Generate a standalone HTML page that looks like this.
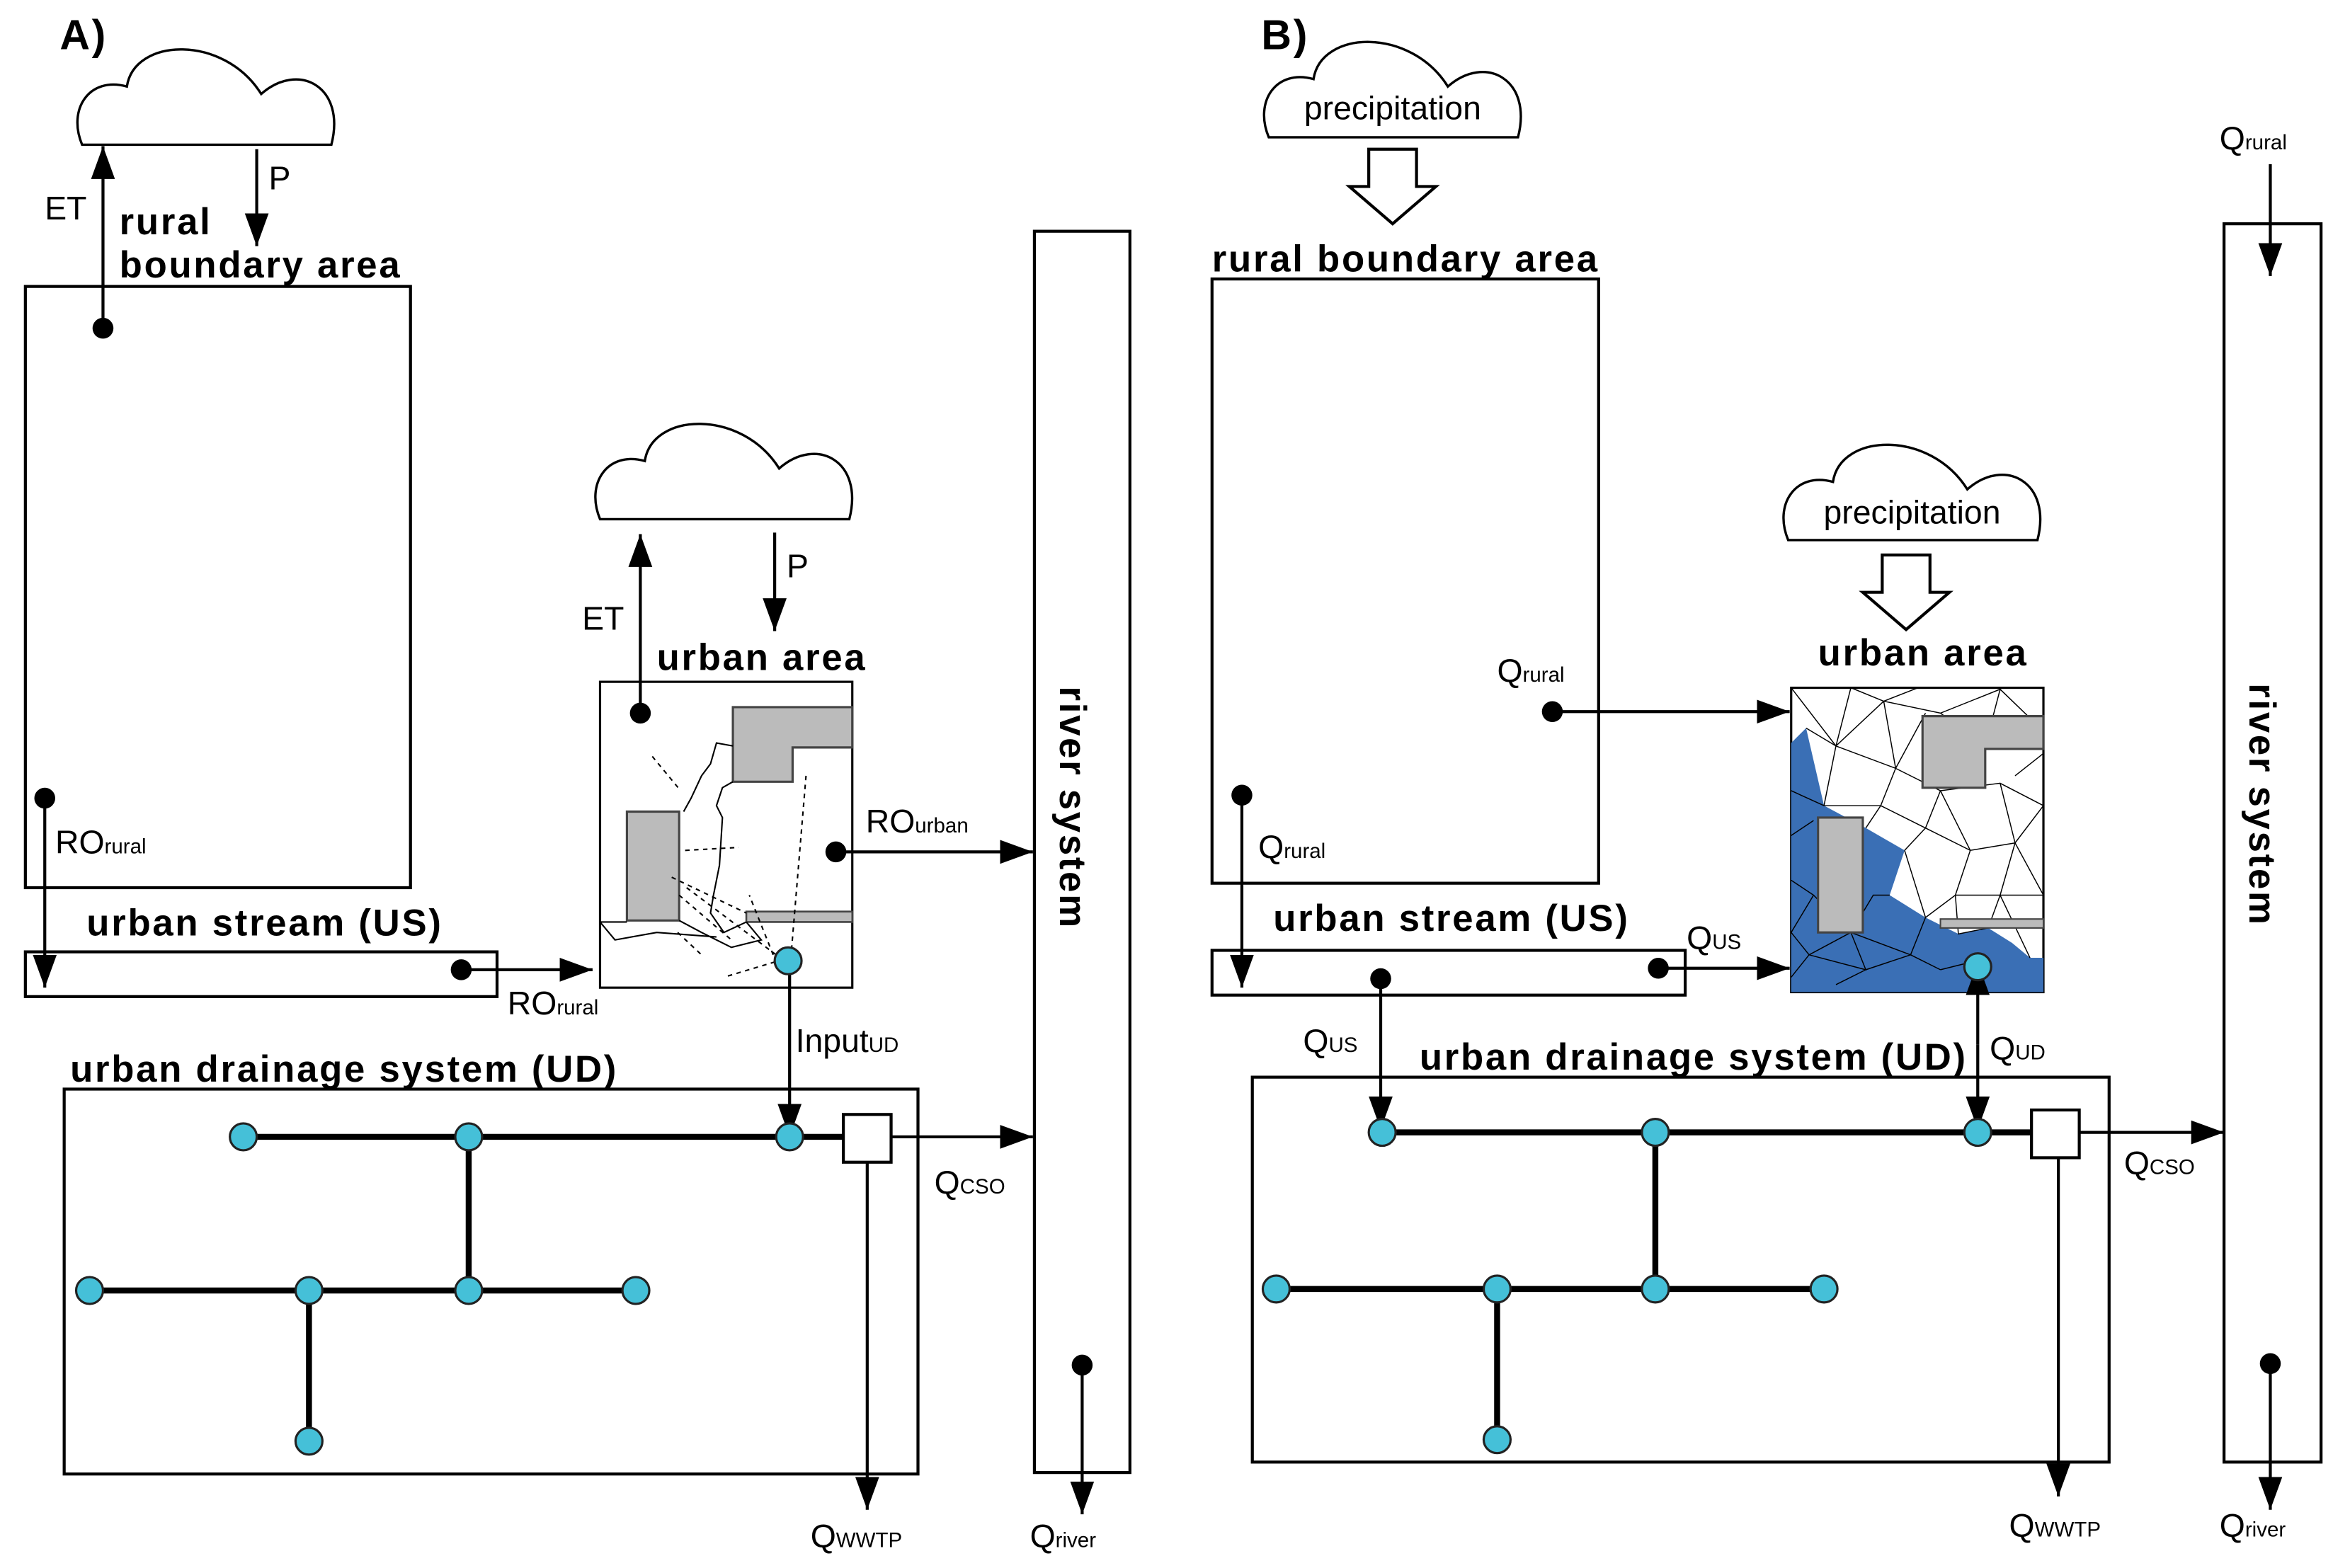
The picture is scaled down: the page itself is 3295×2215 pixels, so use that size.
<!DOCTYPE html>
<html><head><meta charset="utf-8"><style>
html,body{margin:0;padding:0;background:#fff}
svg{display:block}
text{font-family:"Liberation Sans",sans-serif;fill:#000}
.b{font-weight:bold;font-size:25px;letter-spacing:1.3px}
.n{font-size:22px}
.s{font-size:14px}
</style></head><body>
<svg width="3295" height="2215" viewBox="0 0 1563 1051" preserveAspectRatio="none" xmlns="http://www.w3.org/2000/svg">
<defs>
<marker id="ah" markerUnits="userSpaceOnUse" markerWidth="24" markerHeight="20" refX="22" refY="10" orient="auto"><path d="M0,2 L22,10 L0,18 Z" fill="#000"/></marker>
<g id="cloud"><path d="M5,64 C-5,40 10,18 35,25 C40,-8 100,-10 125,30 C150,8 182,25 172,64 Z" fill="#fff" stroke="#000" stroke-width="1.6"/></g>
<g id="harrow"><path d="M0,0 L32,0 L32,25 L45,25 L16,50 L-13,25 L0,25 Z" fill="#fff" stroke="#000" stroke-width="2"/></g>
</defs>
<g fill="none" stroke="#000" stroke-width="2">
<rect x="17" y="192" width="258" height="403"/>
<rect x="17" y="638" width="316" height="30"/>
<rect x="693" y="155" width="64" height="832"/>
<rect x="43" y="730" width="572" height="258"/>
<rect x="402" y="457" width="169" height="205" stroke-width="1.5"/>
<rect x="812" y="187" width="259" height="405"/>
<rect x="812" y="637" width="317" height="30"/>
<rect x="839" y="722" width="574" height="258"/>
<rect x="1490" y="150" width="65" height="830"/>
</g>
<text x="40" y="33" class="b" style="font-size:28px">A)</text>
<text x="845" y="33" class="b" style="font-size:28px">B)</text>
<use href="#cloud" x="50" y="33"/>
<use href="#cloud" x="397" y="284"/>
<use href="#cloud" x="845" y="28"/>
<use href="#cloud" x="1193" y="298"/>
<text x="933" y="80" class="n" text-anchor="middle">precipitation</text>
<text x="1281" y="351" class="n" text-anchor="middle">precipitation</text>
<use href="#harrow" x="917" y="100"/>
<use href="#harrow" x="1261" y="372"/>

<path d="M491,474 L571,474 L571,501 L531,501 L531,524 L491,524 Z" fill="#bbb" stroke="#444" stroke-width="1.5"/>
<path d="M420,544 L455,544 L455,617 L420,617 Z" fill="#bbb" stroke="#444" stroke-width="1.5"/>
<path d="M500,611 L571,611 L571,618 L500,618 Z" fill="#bbb" stroke="#444" stroke-width="1.2"/>
<g fill="none" stroke="#000" stroke-width="1">
<path d="M402,618 L420,618 M455,617 L470,625 L490,635 L510,630 L500,618 M402,618 L412,630 L440,625 L480,628"/>
<path d="M491,500 L480,498 L476,512 L470,520 L463,535 L458,544"/>
<path d="M491,524 L484,528 L480,540 L484,548 L482,580 L478,600 L476,612 L485,625 L500,618"/>
</g>
<g fill="none" stroke="#000" stroke-width="1" stroke-dasharray="3,3">
<path d="M437,507 L456,530 M459,570 L495,568 M450,588 L500,612 M540,520 L530,640 M525,643 L485,655 M518,640 L502,600 M455,600 L490,630 M460,595 L520,640 M454,625 L470,640"/>
</g>

<rect x="1200" y="461" width="169" height="204" fill="#fff" stroke="#000" stroke-width="1.5"/>
<path d="M1200,498 L1210,488 L1222,540 L1250,555 L1276,570 L1266,600 L1290,615 L1312,626 L1332,622 L1348,632 L1360,642 L1369,642 L1369,665 L1200,665 Z" fill="#3a6fb5"/>
<g fill="none" stroke="#000" stroke-width="0.7">
<path d="M1200,461 L1230,500 L1262,470 L1300,478 L1340,462 L1369,490 M1230,500 L1210,488 M1262,470 L1240,461 L1230,500 M1262,470 L1285,461 M1230,500 L1270,515 L1262,470 M1270,515 L1290,478 M1270,515 L1300,530 L1340,525 L1369,540 L1350,565 L1369,600 M1230,500 L1222,540 L1260,540 L1270,515 M1260,540 L1250,555 M1260,540 L1290,555 L1300,530 M1290,555 L1276,570 M1290,555 L1320,570 L1350,565 L1340,525 M1320,570 L1300,530 M1320,570 L1310,600 L1290,615 L1276,570 M1310,600 L1340,600 L1350,565 M1340,600 L1369,600 M1340,600 L1332,622 L1312,626 L1310,600 M1340,600 L1360,642 M1369,540 L1340,525 M1200,530 L1222,540 M1200,560 L1215,550 M1200,590 L1215,600 L1200,625 L1212,640 L1200,655 M1215,600 L1240,625 L1212,640 M1240,625 L1250,650 L1212,640 M1250,650 L1280,640 L1240,625 M1280,640 L1290,615 M1240,625 L1255,600 L1266,600 M1230,660 L1250,650 M1300,650 L1280,640 M1320,645 L1300,650 M1350,520 L1369,505 M1340,462 L1330,500 L1300,478"/>
</g>
<path d="M1288,480 L1369,480 L1369,502 L1330,502 L1330,528 L1288,528 Z" fill="#bbb" stroke="#444" stroke-width="1.5"/>
<rect x="1218" y="548" width="30" height="77" fill="#bbb" stroke="#444" stroke-width="1.5"/>
<rect x="1300" y="616" width="69" height="6" fill="#bbb" stroke="#444" stroke-width="1"/>

<g fill="none" stroke="#000" stroke-width="2" marker-end="url(#ah)">
<path d="M69,220 L69,98"/>
<path d="M172,100 L172,165"/>
<path d="M30,535 L30,662"/>
<path d="M309,650 L397,650"/>
<path d="M429,478 L429,358"/>
<path d="M519,357 L519,423"/>
<path d="M560,571 L692,571"/>
<path d="M529,646 L529,762"/>
<path d="M597,762 L692,762"/>
<path d="M581,779 L581,1012"/>
<path d="M725,915 L725,1015"/>
<path d="M1040,477 L1199,477"/>
<path d="M832,533 L832,662"/>
<path d="M1111,649 L1199,649"/>
<path d="M925,656 L925,757"/>
<path d="M1325,700 L1325,757"/>
<path d="M1325,700 L1325,645"/>
<path d="M1393,759 L1490,759"/>
<path d="M1379,776 L1379,1003"/>
<path d="M1521,110 L1521,185"/>
<path d="M1521,914 L1521,1012"/>
</g>
<g stroke="#000" stroke-width="4" fill="none">
<path d="M163,762 L565,762 M314,762 L314,865 M60,865 L426,865 M207,865 L207,966"/>
<path d="M926,759 L1361,759 M1109,759 L1109,864 M855,864 L1222,864 M1003,864 L1003,965"/>
</g>
<rect x="565" y="747" width="32" height="32" fill="#fff" stroke="#000" stroke-width="2"/>
<rect x="1361" y="744" width="32" height="32" fill="#fff" stroke="#000" stroke-width="2"/>
<g fill="#45c0d8" stroke="#222" stroke-width="1.5">
<circle cx="163" cy="762" r="9"/><circle cx="314" cy="762" r="9"/><circle cx="529" cy="762" r="9"/>
<circle cx="60" cy="865" r="9"/><circle cx="207" cy="865" r="9"/><circle cx="314" cy="865" r="9"/><circle cx="426" cy="865" r="9"/><circle cx="207" cy="966" r="9"/>
<circle cx="528" cy="644" r="9"/>
<circle cx="926" cy="759" r="9"/><circle cx="1109" cy="759" r="9"/><circle cx="1325" cy="759" r="9"/>
<circle cx="855" cy="864" r="9"/><circle cx="1003" cy="864" r="9"/><circle cx="1109" cy="864" r="9"/><circle cx="1222" cy="864" r="9"/><circle cx="1003" cy="965" r="9"/>
<circle cx="1325" cy="648" r="9"/>
</g>
<g fill="#000">
<circle cx="69" cy="220" r="7"/><circle cx="30" cy="535" r="7"/><circle cx="309" cy="650" r="7"/>
<circle cx="429" cy="478" r="7"/><circle cx="560" cy="571" r="7"/><circle cx="725" cy="915" r="7"/>
<circle cx="1040" cy="477" r="7"/><circle cx="832" cy="533" r="7"/><circle cx="1111" cy="649" r="7"/>
<circle cx="925" cy="656" r="7"/><circle cx="1521" cy="914" r="7"/>
</g>

<text x="30" y="147" class="n">ET</text>
<text x="180" y="127" class="n">P</text>
<text x="80" y="157" class="b">rural</text>
<text x="80" y="186" class="b">boundary area</text>
<text x="37" y="572" class="n">RO<tspan class="s">rural</tspan></text>
<text x="58" y="627" class="b">urban stream (US)</text>
<text x="340" y="680" class="n">RO<tspan class="s">rural</tspan></text>
<text x="390" y="422" class="n">ET</text>
<text x="527" y="387" class="n">P</text>
<text x="440" y="449" class="b">urban area</text>
<text x="580" y="558" class="n">RO<tspan class="s">urban</tspan></text>
<text x="47" y="725" class="b">urban drainage system (UD)</text>
<text x="533" y="705" class="n">Input<tspan class="s">UD</tspan></text>
<text x="626" y="800" class="n">Q<tspan class="s">CSO</tspan></text>
<text x="543" y="1037" class="n">Q<tspan class="s">WWTP</tspan></text>
<text x="690" y="1037" class="n">Q<tspan class="s">river</tspan></text>
<text transform="translate(710,460) rotate(90)" class="b">river system</text>

<text x="812" y="182" class="b">rural boundary area</text>
<text x="1003" y="457" class="n">Q<tspan class="s">rural</tspan></text>
<text x="843" y="575" class="n">Q<tspan class="s">rural</tspan></text>
<text x="853" y="624" class="b">urban stream (US)</text>
<text x="1130" y="636" class="n">Q<tspan class="s">US</tspan></text>
<text x="873" y="705" class="n">Q<tspan class="s">US</tspan></text>
<text x="1218" y="446" class="b">urban area</text>
<text x="1333" y="710" class="n">Q<tspan class="s">UD</tspan></text>
<text x="951" y="717" class="b">urban drainage system (UD)</text>
<text x="1423" y="787" class="n">Q<tspan class="s">CSO</tspan></text>
<text x="1346" y="1030" class="n">Q<tspan class="s">WWTP</tspan></text>
<text x="1487" y="1030" class="n">Q<tspan class="s">river</tspan></text>
<text x="1487" y="100" class="n">Q<tspan class="s">rural</tspan></text>
<text transform="translate(1507,458) rotate(90)" class="b">river system</text>
</svg>
</body></html>
